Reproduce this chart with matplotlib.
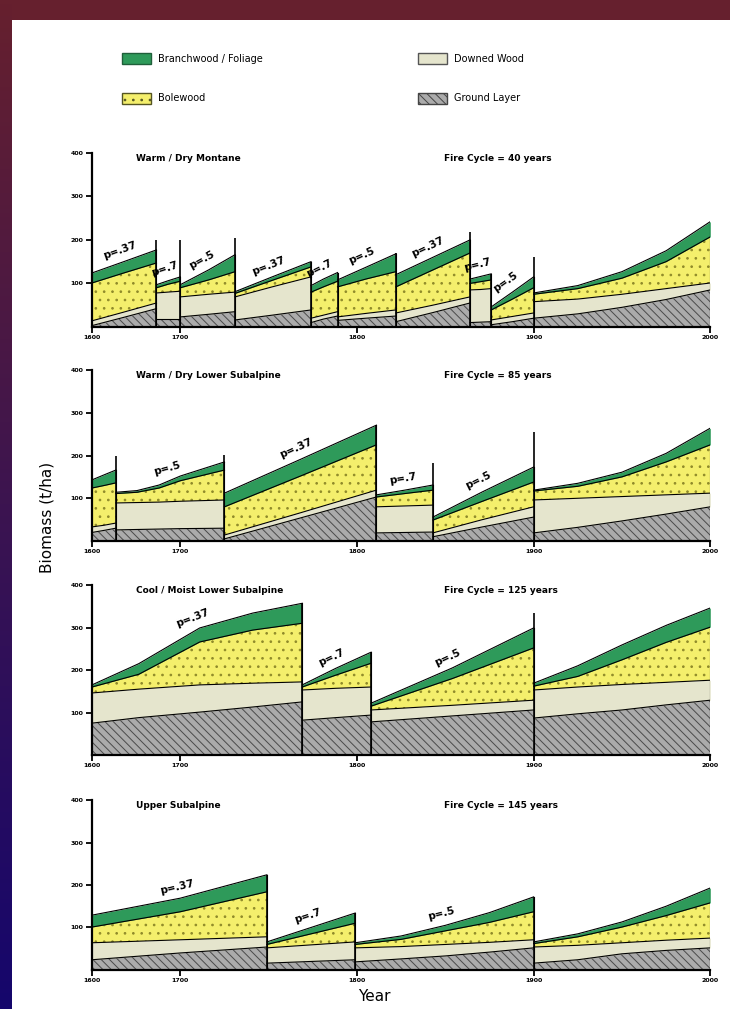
import numpy as np
import matplotlib.pyplot as plt
from matplotlib.patches import Patch
from matplotlib.colors import LinearSegmentedColormap

plt.rcParams['hatch.linewidth'] = 0.7
plt.rcParams['font.family'] = ['DejaVu Sans']

# Layer colours: ground, downed wood, bolewood, branchwood/foliage
layer_names = ["Ground Layer", "Downed Wood", "Bolewood", "Branchwood / Foliage"]
layer_colors = ['#ababab', '#e5e5cd', '#f4ef6c', '#2e9a5a']
layer_hatch = ['\\\\\\\\', None, '..', None]
hatch_colors = ['#4a4a4a', '#e5e5cd', '#8f8a2a', '#2e9a5a']

# ---- Panel 1 : Warm/Dry Montane (segment years and cumulative layer tops, t/ha)
p1_years = [[1600, 1636, 1673], [1673, 1686, 1700], [1700, 1716, 1731], [1731, 1752, 1774],
            [1774, 1781, 1789], [1789, 1805, 1822], [1822, 1843, 1864], [1864, 1870, 1876],
            [1876, 1888, 1900], [1900, 1925, 1950, 1975, 2000]]
p1_ground = [[3, 22, 42], [18, 18, 18], [23, 29, 35], [16, 27, 39], [10, 18, 25],
             [15, 20, 25], [12, 33, 55], [10, 11, 12], [5, 12, 20], [20, 30, 45, 63, 85]]
p1_downed = [[14, 34, 55], [78, 80, 82], [69, 75, 80], [69, 92, 115], [20, 27, 35],
             [23, 31, 39], [32, 50, 69], [85, 86, 88], [16, 24, 32], [58, 64, 75, 88, 101]]
p1_bole = [[101, 124, 147], [90, 98, 105], [90, 108, 127], [77, 107, 138], [80, 92, 105],
           [92, 110, 127], [92, 131, 170], [100, 104, 108], [39, 64, 90], [75, 88, 112, 150, 207]]
p1_branch = [[124, 150, 177], [97, 106, 115], [97, 131, 166], [81, 115, 150], [95, 110, 125],
             [108, 137, 168], [120, 160, 200], [110, 116, 122], [46, 80, 115], [78, 95, 127, 175, 242]]
p1_p = ["p=.37", "p=.7", "p=.5", "p=.37", "p=.7", "p=.5", "p=.37", "p=.7", "p=.5", None]
p1_fire = [200, 200, 205, 150, 125, 170, 219, 122, 161]

# ---- Panel 2 : Warm/Dry Lower Subalpine
p2_years = [[1600, 1614, 1627], [1627, 1651, 1676, 1700, 1725], [1725, 1768, 1811],
            [1811, 1827, 1843], [1843, 1871, 1900], [1900, 1925, 1950, 1975, 2000]]
p2_ground = [[20, 25, 30], [26, 27, 28, 29, 30], [5, 54, 103], [19, 20, 21], [10, 33, 56],
             [19, 32, 47, 63, 80]]
p2_downed = [[33, 37, 42], [89, 90, 91, 93, 96], [14, 66, 119], [80, 82, 84], [19, 50, 80],
             [96, 100, 104, 108, 112]]
p2_bole = [[124, 130, 136], [111, 114, 124, 141, 166], [80, 152, 225], [103, 111, 119],
           [49, 93, 138], [117, 128, 150, 185, 225]]
p2_branch = [[143, 155, 166], [114, 118, 131, 152, 185], [112, 191, 271], [108, 119, 131],
             [56, 115, 173], [119, 135, 161, 205, 264]]
p2_p = [None, "p=.5", "p=.37", "p=.7", "p=.5", None]
p2_fire = [200, 201, 271, 182, 255]

# ---- Panel 3 : Cool/Moist Lower Subalpine
p3_years = [[1600, 1653, 1711, 1741, 1769], [1769, 1788, 1808], [1808, 1854, 1900],
            [1900, 1925, 1950, 1975, 2000]]
p3_ground = [[75, 88, 101, 113, 125], [82, 88, 94], [78, 92, 106], [87, 97, 106, 118, 129]]
p3_downed = [[146, 155, 165, 169, 172], [153, 157, 160], [106, 117, 129], [153, 160, 166, 171, 176]]
p3_bole = [[160, 190, 266, 294, 310], [160, 188, 216], [115, 180, 252], [162, 185, 224, 265, 301]]
p3_branch = [[165, 215, 299, 334, 357], [165, 204, 242], [122, 205, 299], [169, 210, 259, 305, 346]]
p3_p = ["p=.37", "p=.7", "p=.5", None]
p3_fire = [357, 242, 334]

# ---- Panel 4 : Upper Subalpine
p4_years = [[1600, 1700, 1749], [1749, 1774, 1799], [1799, 1825, 1850, 1875, 1900],
            [1900, 1925, 1950, 1975, 2000]]
p4_ground = [[24, 40, 54], [16, 20, 24], [19, 26, 33, 42, 52], [16, 24, 38, 46, 52]]
p4_downed = [[64, 71, 78], [52, 59, 66], [52, 55, 60, 65, 71], [54, 58, 64, 70, 75]]
p4_bole = [[101, 137, 184], [60, 85, 110], [60, 72, 92, 112, 137], [62, 78, 101, 128, 158]]
p4_branch = [[129, 169, 224], [66, 100, 134], [64, 80, 105, 135, 172], [66, 85, 113, 150, 193]]
p4_p = ["p=.37", "p=.7", "p=.5", None]
p4_fire = [224, 134, 172]

titles = ["Warm / Dry Montane", "Warm / Dry Lower Subalpine",
          "Cool / Moist Lower Subalpine", "Upper Subalpine"]
cycles = ["Fire Cycle = 40 years", "Fire Cycle = 85 years",
          "Fire Cycle = 125 years", "Fire Cycle = 145 years"]
x_ticks = [1600, 1700, 1800, 1900, 2000]
y_ticks = [100, 200, 300, 400]


# the 1600-1700 century is drawn at half width on the original axis
def fwd(x):
    x = np.asarray(x, dtype=float)
    return np.where(x < 1700, 1700 - (1700 - x) / 2.0, x)


def inv(x):
    x = np.asarray(x, dtype=float)
    return np.where(x < 1700, 1700 - (1700 - x) * 2.0, x)


fig = plt.figure(figsize=(7.3, 10.09), dpi=100)
fig.patch.set_facecolor('white')

# dark border of the slide
top_bar = fig.add_axes([0, 1 - 20 / 1009, 1, 20 / 1009])
top_bar.axis('off')
top_bar.add_patch(plt.Rectangle((0, 0), 1, 1, color='#66202e', transform=top_bar.transAxes))
side = fig.add_axes([0, 0, 12 / 730, 1])
grad = np.linspace(0, 1, 256).reshape(-1, 1)
cmap = LinearSegmentedColormap.from_list('border', ['#66202e', '#3c1450', '#15066c'])
side.imshow(grad, aspect='auto', cmap=cmap, extent=[0, 1, 0, 1])
side.axis('off')

panel_data = [
    (p1_years, p1_ground, p1_downed, p1_bole, p1_branch, p1_p, p1_fire),
    (p2_years, p2_ground, p2_downed, p2_bole, p2_branch, p2_p, p2_fire),
    (p3_years, p3_ground, p3_downed, p3_bole, p3_branch, p3_p, p3_fire),
    (p4_years, p4_ground, p4_downed, p4_bole, p4_branch, p4_p, p4_fire),
]
axes_rects = [[0.126, 0.676, 0.847, 0.1725],
              [0.126, 0.4638, 0.847, 0.1695],
              [0.126, 0.2517, 0.847, 0.1685],
              [0.126, 0.0387, 0.847, 0.1684]]

for i, (years, ground, downed, bole, branch, plab, fire) in enumerate(panel_data):
    ax = fig.add_axes(axes_rects[i])
    ax.set_xscale('function', functions=(fwd, inv))
    ax.set_xlim(1600, 2000)
    ax.set_ylim(0, 400)
    for spine in ['top', 'right']:
        ax.spines[spine].set_visible(False)
    for spine in ['left', 'bottom']:
        ax.spines[spine].set_linewidth(1.6)
    ax.set_xticks(x_ticks)
    ax.set_xticklabels([str(t) for t in x_ticks], fontsize=4.5, fontweight='bold')
    ax.set_yticks(y_ticks)
    ax.set_yticklabels([str(t) for t in y_ticks], fontsize=4.5, fontweight='bold')
    ax.minorticks_off()
    ax.tick_params(length=4, width=1.3, pad=2)

    for s, yr in enumerate(years):
        stack = [np.zeros(len(yr)), ground[s], downed[s], bole[s], branch[s]]
        for k in range(4):
            ax.fill_between(yr, stack[k], stack[k + 1], facecolor=layer_colors[k],
                            hatch=layer_hatch[k], edgecolor=hatch_colors[k], linewidth=0)
            ax.plot(yr, stack[k + 1], color='black', lw=0.8)
        ax.plot([yr[-1], yr[-1]], [0, branch[s][-1]], color='black', lw=0.8)

    # fire events
    starts = [yr[0] for yr in years[1:]]
    ax.vlines(starts, 0, fire, color='black', lw=1.2)

    # p labels following the slope of the canopy
    for s, yr in enumerate(years):
        if plab[s] is None:
            continue
        a = ax.transData.transform((yr[0], branch[s][0]))
        b = ax.transData.transform((yr[-1], branch[s][-1]))
        ang = np.degrees(np.arctan2(b[1] - a[1], b[0] - a[0]))
        xm = inv((fwd(yr[0]) + fwd(yr[-1])) / 2)
        ym = np.interp(fwd(xm), fwd(yr), branch[s])
        off = 8.5
        ax.annotate(plab[s], (xm, ym),
                    xytext=(-off * np.sin(np.radians(ang)), off * np.cos(np.radians(ang))),
                    textcoords='offset points', ha='center', va='center', rotation=ang,
                    fontsize=7.5, fontweight='bold')

    ax.text(0.072, 0.97, titles[i], transform=ax.transAxes, fontsize=6.5, fontweight='bold',
            va='center', ha='left')
    ax.text(0.57, 0.97, cycles[i], transform=ax.transAxes, fontsize=6.5, fontweight='bold',
            va='center', ha='left')

fig.text(0.064, 0.487, "Biomass (t/ha)", rotation=90, fontsize=11, va='center', ha='center')
fig.text(0.513, 0.012, "Year", fontsize=11, va='center', ha='center')

handles = [Patch(facecolor=layer_colors[3], edgecolor='#1f5f3a', lw=1),
           Patch(facecolor=layer_colors[2], hatch='..', edgecolor='#555522', lw=1),
           Patch(facecolor=layer_colors[1], edgecolor='#555555', lw=1),
           Patch(facecolor=layer_colors[0], hatch='\\\\\\\\', edgecolor='#444444', lw=1)]
labels = [layer_names[3], layer_names[2], layer_names[1], layer_names[0]]
fig.legend(handles, labels, ncol=2, loc='upper left', bbox_to_anchor=(0.155, 0.956),
           frameon=False, fontsize=7, handlelength=3.0, handleheight=1.4, handletextpad=0.7,
           columnspacing=16, labelspacing=2.9)

fig.savefig('out.png', dpi=100)
